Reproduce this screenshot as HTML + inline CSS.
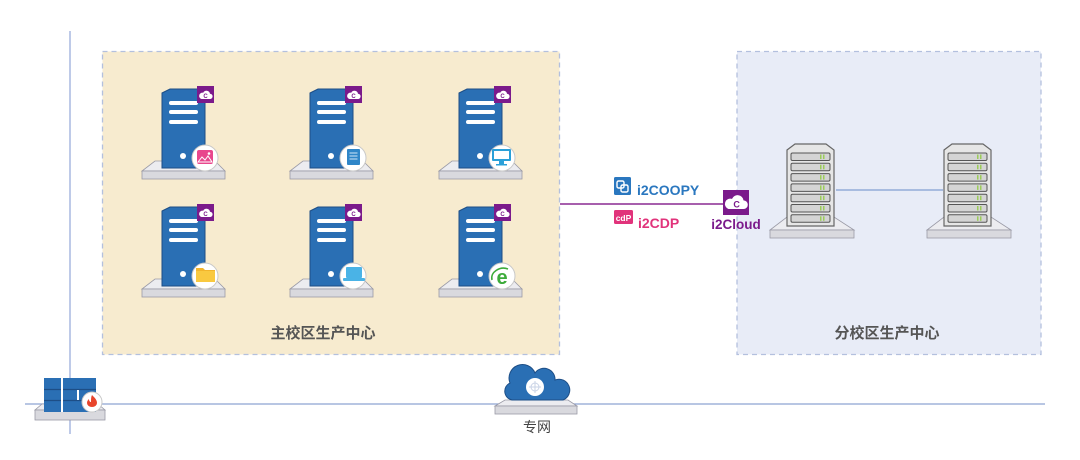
<!DOCTYPE html>
<html><head><meta charset="utf-8"><style>
html,body{margin:0;padding:0;background:#fff;}
svg{display:block;}
text{font-family:"Liberation Sans","Noto Sans CJK SC",sans-serif;}
</style></head><body>
<svg width="1080" height="460" viewBox="0 0 1080 460" xmlns="http://www.w3.org/2000/svg">
<defs>
  <g id="tower">
    <polygon points="-7,72 53,72 63,82 -20,82" fill="#ececf0" stroke="#9a9aa6" stroke-width="0.8"/>
    <rect x="-20" y="82" width="83" height="8" fill="#d9d9de" stroke="#9a9aa6" stroke-width="0.8"/>
    <polygon points="0,4 8,0 36,0 43,4 43,79 0,79" fill="#2a6fb4" stroke="#1d4e86" stroke-width="1"/>
    <rect x="7" y="12" width="29" height="4" rx="2" fill="#fff"/>
    <rect x="7" y="21" width="29" height="4" rx="2" fill="#fff"/>
    <rect x="7" y="31" width="29" height="4" rx="2" fill="#fff"/>
    <circle cx="21" cy="67" r="3" fill="#fff"/>
    <rect x="35" y="-3" width="17" height="17" fill="#7b1a8b"/>
    <path d="M39.5,10 h8.5 a2.6,2.6 0 0 0 0,-5.2 a3.6,3.6 0 0 0 -6.8,-1 a2.6,2.6 0 0 0 -1.7,6.2z" fill="#fff"/>
    <text x="43.6" y="9.2" font-size="6" font-weight="bold" fill="#7b1a8b" text-anchor="middle">C</text>
    <circle cx="43" cy="69" r="13" fill="#fff" stroke="#c8c8c8" stroke-width="1"/>
  </g>
  <g id="rack">
    <polygon points="0,73 47,73 67,86 -17,86" fill="#ececf0" stroke="#9a9aa6" stroke-width="0.8"/>
    <rect x="-17" y="86" width="84" height="8" fill="#d9d9de" stroke="#9a9aa6" stroke-width="0.8"/>
    <polygon points="0,6 8,0 39,0 47,6 47,82 0,82" fill="#e6e6e6" stroke="#666" stroke-width="1.2"/>
    <g id="unit"><rect x="4" y="9" width="39" height="7.5" rx="1.5" fill="#d4d4d4" stroke="#555" stroke-width="1"/>
    <rect x="33" y="10.5" width="1.5" height="4.5" fill="#9ccc5a"/><rect x="36" y="10.5" width="1.5" height="4.5" fill="#9ccc5a"/></g>
    <use href="#unit" y="10.3"/><use href="#unit" y="20.6"/><use href="#unit" y="30.9"/>
    <use href="#unit" y="41.2"/><use href="#unit" y="51.5"/><use href="#unit" y="61.8"/>
  </g>
</defs>

<!-- axis lines -->
<line x1="70" y1="31" x2="70" y2="434" stroke="#a9b8e0" stroke-width="1.5"/>
<line x1="25" y1="404" x2="1045" y2="404" stroke="#8ea4d2" stroke-width="1.2"/>

<!-- boxes -->
<rect x="102.5" y="51.5" width="457" height="303" fill="#f7ebcf" stroke="#b3c0de" stroke-width="1.3" stroke-dasharray="5,4"/>
<rect x="737" y="51.5" width="304" height="303" fill="#e8ecf7" stroke="#b3c0de" stroke-width="1.3" stroke-dasharray="5,4"/>

<!-- towers -->
<use href="#tower" x="162" y="89"/>
<use href="#tower" x="310" y="89"/>
<use href="#tower" x="459" y="89"/>
<use href="#tower" x="162" y="207"/>
<use href="#tower" x="310" y="207"/>
<use href="#tower" x="459" y="207"/>

<!-- circle icons -->
<rect x="197" y="150" width="16" height="14" rx="2" fill="#e8478d"/>
<path d="M198,162 l4,-5 l3,3 l3,-4 l4,6z" fill="none" stroke="#fff" stroke-width="1"/>
<circle cx="209" cy="153.5" r="1.3" fill="#fff"/>
<rect x="347" y="149" width="13" height="16" rx="1" fill="#2f86c8"/>
<line x1="349.5" y1="153" x2="357.5" y2="153" stroke="#cfe6f7" stroke-width="1"/>
<line x1="349.5" y1="156" x2="357.5" y2="156" stroke="#cfe6f7" stroke-width="1"/>
<line x1="349.5" y1="159" x2="357.5" y2="159" stroke="#cfe6f7" stroke-width="1"/>
<rect x="492" y="149" width="19" height="12" rx="1" fill="#2aa0d8"/>
<rect x="494" y="151" width="15" height="8" fill="#fff"/>
<rect x="499" y="161" width="5" height="3" fill="#2aa0d8"/>
<rect x="496" y="164" width="11" height="1.5" fill="#2aa0d8"/>
<path d="M196,268 h7 l2,2 h10 v12 h-19z" fill="#f2b52c"/>
<rect x="196" y="271" width="19" height="11" fill="#f9c940"/>
<rect x="346" y="267" width="16" height="11" rx="1" fill="#4ab3e6"/>
<rect x="343" y="278" width="22" height="3" rx="1" fill="#4ab3e6"/>
<text x="502" y="284" font-size="20" font-weight="bold" fill="#3dab3a" text-anchor="middle">e</text>
<path d="M492,280 c-2,-8 8,-14 16,-11" fill="none" stroke="#3dab3a" stroke-width="1.6"/>

<!-- labels -->
<text x="323" y="338" font-size="15" font-weight="bold" fill="#555" text-anchor="middle">主校区生产中心</text>
<text x="887" y="338" font-size="15" font-weight="bold" fill="#555" text-anchor="middle">分校区生产中心</text>

<!-- right rack servers -->
<line x1="836" y1="190" x2="943" y2="190" stroke="#92abd8" stroke-width="1.5"/>
<use href="#rack" x="787" y="144"/>
<use href="#rack" x="944" y="144"/>

<!-- connection -->
<line x1="560" y1="204" x2="725" y2="204" stroke="#8a2a92" stroke-width="1.6"/>
<rect x="723" y="190" width="26" height="25" fill="#7b1a8b"/>
<path d="M728.5,209 h15 a4.3,4.3 0 0 0 0,-8.6 a6,6 0 0 0 -11.5,-1.5 a4.3,4.3 0 0 0 -3.5,10.1z" fill="#fff"/>
<text x="736.6" y="207.6" font-size="9" font-weight="bold" fill="#7b1a8b" text-anchor="middle">C</text>
<text x="736" y="229" font-size="13.5" font-weight="bold" fill="#7b1a8b" text-anchor="middle">i2Cloud</text>

<!-- i2COOPY -->
<rect x="614" y="177" width="17" height="18" rx="1.5" fill="#2a77bf"/>
<rect x="617" y="181" width="7" height="7" rx="1.5" fill="none" stroke="#fff" stroke-width="1.4"/>
<rect x="621" y="185" width="7" height="7" rx="1.5" fill="none" stroke="#fff" stroke-width="1.4"/>
<text x="637" y="195" font-size="14" font-weight="bold" fill="#2a77bf">i2COOPY</text>
<!-- i2CDP -->
<rect x="614" y="210" width="19" height="14" rx="1.5" fill="#e1337b"/>
<text x="623.5" y="221" font-size="8.5" font-weight="bold" fill="#fff" text-anchor="middle">cdP</text>
<text x="638" y="228" font-size="14" font-weight="bold" fill="#e1337b">i2CDP</text>

<!-- firewall -->
<polygon points="42,404 98,404 105,410 35,410" fill="#ececf0" stroke="#9a9aa6" stroke-width="0.8"/>
<rect x="35" y="410" width="70" height="10" fill="#d9d9de" stroke="#9a9aa6" stroke-width="0.8"/>
<rect x="44" y="378" width="52" height="34" fill="#2a6fb4"/>
<line x1="44" y1="389.5" x2="96" y2="389.5" stroke="#1d4e86" stroke-width="1.2"/>
<line x1="44" y1="400.5" x2="96" y2="400.5" stroke="#1d4e86" stroke-width="1.2"/>
<line x1="62" y1="378" x2="62" y2="412" stroke="#fff" stroke-width="2"/>
<line x1="78" y1="390" x2="78" y2="400" stroke="#fff" stroke-width="2"/>
<circle cx="92" cy="402" r="10" fill="#fff" stroke="#c8c8c8" stroke-width="1"/>
<path d="M92,395 c3,3 5,5 5,8 a5,4 0 0 1 -10,0 c0,-2 1,-3 2,-4 c0,2 1,3 2,3 c0,-3 0,-5 1,-7z" fill="#e8452c"/>

<!-- cloud -->
<polygon points="505,400 568,400 577,406 495,406" fill="#ececf0" stroke="#9a9aa6" stroke-width="0.8"/>
<rect x="495" y="406" width="82" height="8" fill="#d9d9de" stroke="#9a9aa6" stroke-width="0.8"/>
<path d="M512,400 a9,9 0 0 1 -2,-17 a13,13 0 0 1 25,-10 a11,11 0 0 1 20,7 a10,10 0 0 1 8,20z" fill="#2a6fb4" stroke="#1d4e86" stroke-width="1"/>
<circle cx="535" cy="387" r="9" fill="#fff"/>
<circle cx="535" cy="387" r="4" fill="none" stroke="#c9d3e6" stroke-width="1"/>
<line x1="529" y1="387" x2="541" y2="387" stroke="#c9d3e6" stroke-width="1"/>
<line x1="535" y1="381" x2="535" y2="393" stroke="#c9d3e6" stroke-width="1"/>
<text x="537" y="432" font-size="14" fill="#444" text-anchor="middle">专网</text>
</svg>
</body></html>
